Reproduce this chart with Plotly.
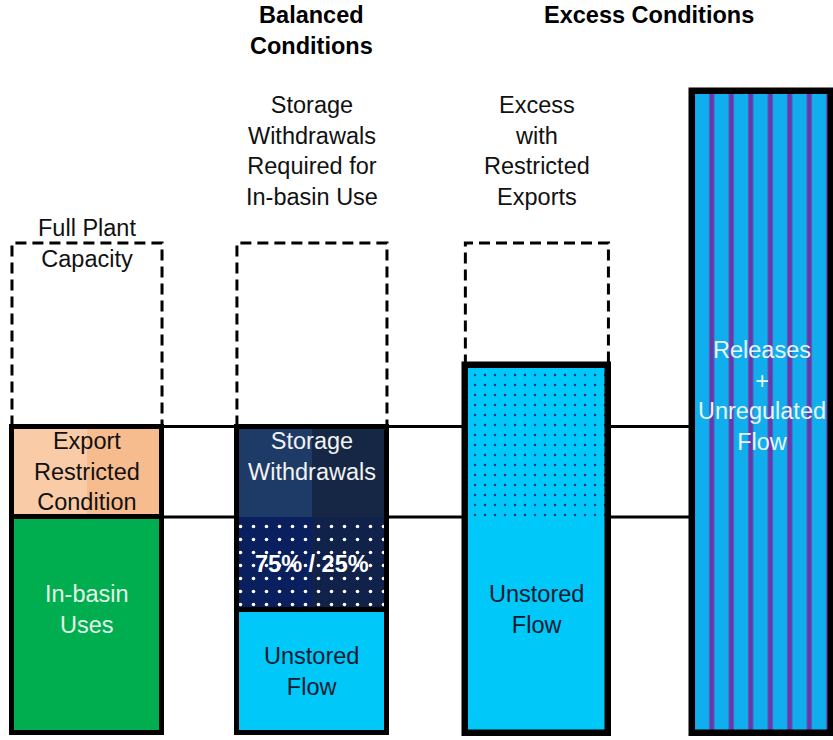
import plotly.graph_objects as go

# ---------------- data (units: % of full plant capacity) ----------------
scenarios = ["Full Plant Capacity",
             "Storage Withdrawals Required for In-basin Use",
             "Excess with Restricted Exports",
             "Releases + Unregulated Flow"]
full_plant_capacity = 100
# scenario 1
in_basin_uses = 44
export_restricted = 18.5
# scenario 2 (balanced)
unstored_flow_balanced = 25
storage_withdrawals_in_basin = 19      # dotted part (75% / 25%)
storage_withdrawals_upper = 18.5       # solid part
# scenario 3 (excess, restricted exports)
unstored_flow_excess = 44
excess_restricted = 31
# scenario 4 (excess)
releases_unregulated = 131

# ---------------- layout helpers (positions / styles) ----------------
FIG_W, FIG_H = 833, 740
pos = [0, 1, 2, 3]
widths = [0.667, 0.667, 0.636, 0.618]
FONT = "Liberation Sans, Arial, sans-serif"
FS = 23.5
GREEN = "#00AD4F"
PEACH_L, PEACH_R = "#F9CBA7", "#F7BC8E"
CYAN = "#00C8F9"
CYAN4 = "#10AEEC"
PURPLE = "#6B36A8"
NAVY_L, NAVY_R = "#1E3A66", "#152744"
DNAVY_L, DNAVY_R = "#0A1F5E", "#10214A"

fig = go.Figure()

def fill_bar(x, base, h, color, w, offset=None, pattern=None, name=""):
    kw = dict(x=[x], y=[h], base=[base], width=[w],
              marker=dict(color=color, line=dict(width=0)),
              hoverinfo="skip", showlegend=False, name=name)
    if offset is not None:
        kw["offset"] = [offset]
    if pattern is not None:
        kw["marker"]["pattern"] = pattern
    fig.add_trace(go.Bar(**kw))

# scenario 1
w0 = widths[0]
fill_bar(pos[0], 0, in_basin_uses, GREEN, w0, name="In-basin Uses")
fill_bar(pos[0], in_basin_uses, export_restricted, PEACH_L, w0 / 2, offset=-w0 / 2,
         name="Export Restricted Condition")
fill_bar(pos[0], in_basin_uses, export_restricted, PEACH_R, w0 / 2, offset=0,
         name="Export Restricted Condition")

# scenario 2
w1 = widths[1]
dots_white = dict(shape=".", fgcolor="white", fgopacity=1, size=13, solidity=0.06, fillmode="overlay")
fill_bar(pos[1], 0, unstored_flow_balanced, CYAN, w1, name="Unstored Flow")
fill_bar(pos[1], unstored_flow_balanced, storage_withdrawals_in_basin, DNAVY_L, w1 / 2,
         offset=-w1 / 2, pattern=dots_white)
fill_bar(pos[1], unstored_flow_balanced, storage_withdrawals_in_basin, DNAVY_R, w1 / 2,
         offset=0, pattern=dots_white)
lvl_sw = unstored_flow_balanced + storage_withdrawals_in_basin
fill_bar(pos[1], lvl_sw, storage_withdrawals_upper, NAVY_L, w1 / 2, offset=-w1 / 2)
fill_bar(pos[1], lvl_sw, storage_withdrawals_upper, NAVY_R, w1 / 2, offset=0)

# scenario 3
fill_bar(pos[2], 0, unstored_flow_excess, CYAN, widths[2], name="Unstored Flow")
fill_bar(pos[2], unstored_flow_excess, excess_restricted, CYAN, widths[2],
         pattern=dict(shape=".", fgcolor="#1A3570", fgopacity=1, size=10, solidity=0.05,
                      fillmode="overlay"))

# scenario 4
fill_bar(pos[3], 0, releases_unregulated, CYAN4, widths[3],
         pattern=dict(shape="|", fgcolor=PURPLE, fgopacity=1, size=19.5, solidity=0.25,
                      fillmode="overlay"))

# outlines
ob_x = [pos[0], pos[0], pos[1], pos[1], pos[2], pos[3]]
ob_base = [0, in_basin_uses, 0, unstored_flow_balanced, 0, 0]
ob_h = [in_basin_uses, export_restricted, unstored_flow_balanced,
        storage_withdrawals_in_basin + storage_withdrawals_upper,
        unstored_flow_excess + excess_restricted, releases_unregulated]
ob_w = [widths[0], widths[0], widths[1], widths[1], widths[2], widths[3]]
fig.add_trace(go.Bar(x=ob_x, y=ob_h, base=ob_base, width=ob_w,
                     marker=dict(color="rgba(0,0,0,0)",
                                 line=dict(color="black", width=[5, 5, 5, 5, 6.5, 6.5])),
                     hoverinfo="skip", showlegend=False))

# dashed "full plant capacity" boxes
tops = [in_basin_uses + export_restricted,
        unstored_flow_balanced + storage_withdrawals_in_basin + storage_withdrawals_upper,
        unstored_flow_excess + excess_restricted]
dx, dy = [], []
for i in range(3):
    l, r = pos[i] - widths[i] / 2, pos[i] + widths[i] / 2
    dx += [l, l, r, r, None]
    dy += [tops[i], full_plant_capacity, full_plant_capacity, tops[i], None]
fig.add_trace(go.Scatter(x=dx, y=dy, mode="lines",
                         line=dict(color="black", width=3, dash="11px,6px"),
                         hoverinfo="skip", showlegend=False))

# reference levels
export_level = in_basin_uses + export_restricted
for lvl in (in_basin_uses, export_level):
    fig.add_shape(type="line", xref="x", yref="y", x0=pos[0], x1=pos[3], y0=lvl, y1=lvl,
                  line=dict(color="black", width=3), layer="below")

def paper_y(px):
    return 1 - px / FIG_H

def ann(text, x, y, color="#111111", bold=False, yref="y", yshift=0, size=FS):
    fig.add_annotation(text=f"<b>{text}</b>" if bold else text, x=x, y=y, xref="x", yref=yref,
                       showarrow=False, yanchor="middle", xanchor="center", yshift=yshift,
                       font=dict(family=FONT, size=size, color=color), align="center")

# headings
ann("Balanced<br>Conditions", pos[1], paper_y(30), "black", bold=True, yref="paper")
ann("Excess Conditions", (pos[2] + pos[3]) / 2, paper_y(15), "black", bold=True, yref="paper")
ann("Storage<br>Withdrawals<br>Required for<br>In-basin Use", pos[1], paper_y(151), yref="paper")
ann("Excess<br>with<br>Restricted<br>Exports", pos[2], paper_y(151), yref="paper")
ann("Full Plant<br>Capacity", pos[0], full_plant_capacity)

# labels inside bars
ann("Export<br>Restricted<br>Condition", pos[0], in_basin_uses + export_restricted / 2)
ann("In-basin<br>Uses", pos[0], in_basin_uses / 2, "#E2F5E8", yshift=15)
ann("Storage<br>Withdrawals", pos[1], lvl_sw + storage_withdrawals_upper / 2, "#F2F2F2", yshift=15)
ann("75% / 25%", pos[1], unstored_flow_balanced + storage_withdrawals_in_basin / 2, "white", bold=True)
ann("Unstored<br>Flow", pos[1], unstored_flow_balanced / 2, "#0A1A30")
ann("Unstored<br>Flow", pos[2], unstored_flow_excess / 2, "#0A1A30", yshift=15)
ann("Releases<br>+<br>Unregulated<br>Flow", pos[3], releases_unregulated / 2, "#E6F6FF", yshift=16)

# axis ranges from page-pixel calibration
PX_X0, PX_PER_X = 87.0, 224.95      # page x of position 0, pixels per position
PX_Y0, PX_PER_Y = 732.5, 4.895      # page y of value 0, pixels per unit
x_range = [(0 - PX_X0) / PX_PER_X, (FIG_W - PX_X0) / PX_PER_X]
y_range = [(PX_Y0 - FIG_H) / PX_PER_Y, PX_Y0 / PX_PER_Y]

fig.update_layout(
    width=FIG_W, height=FIG_H, margin=dict(l=0, r=0, t=0, b=0),
    barmode="overlay", bargap=0,
    paper_bgcolor="white", plot_bgcolor="white",
    xaxis=dict(range=x_range, visible=False, fixedrange=True),
    yaxis=dict(range=y_range, visible=False, fixedrange=True),
    showlegend=False,
)

fig.write_html("out.html", config={"displayModeBar": False},
               post_script="document.body.style.margin='0';document.body.style.overflow='hidden';")
